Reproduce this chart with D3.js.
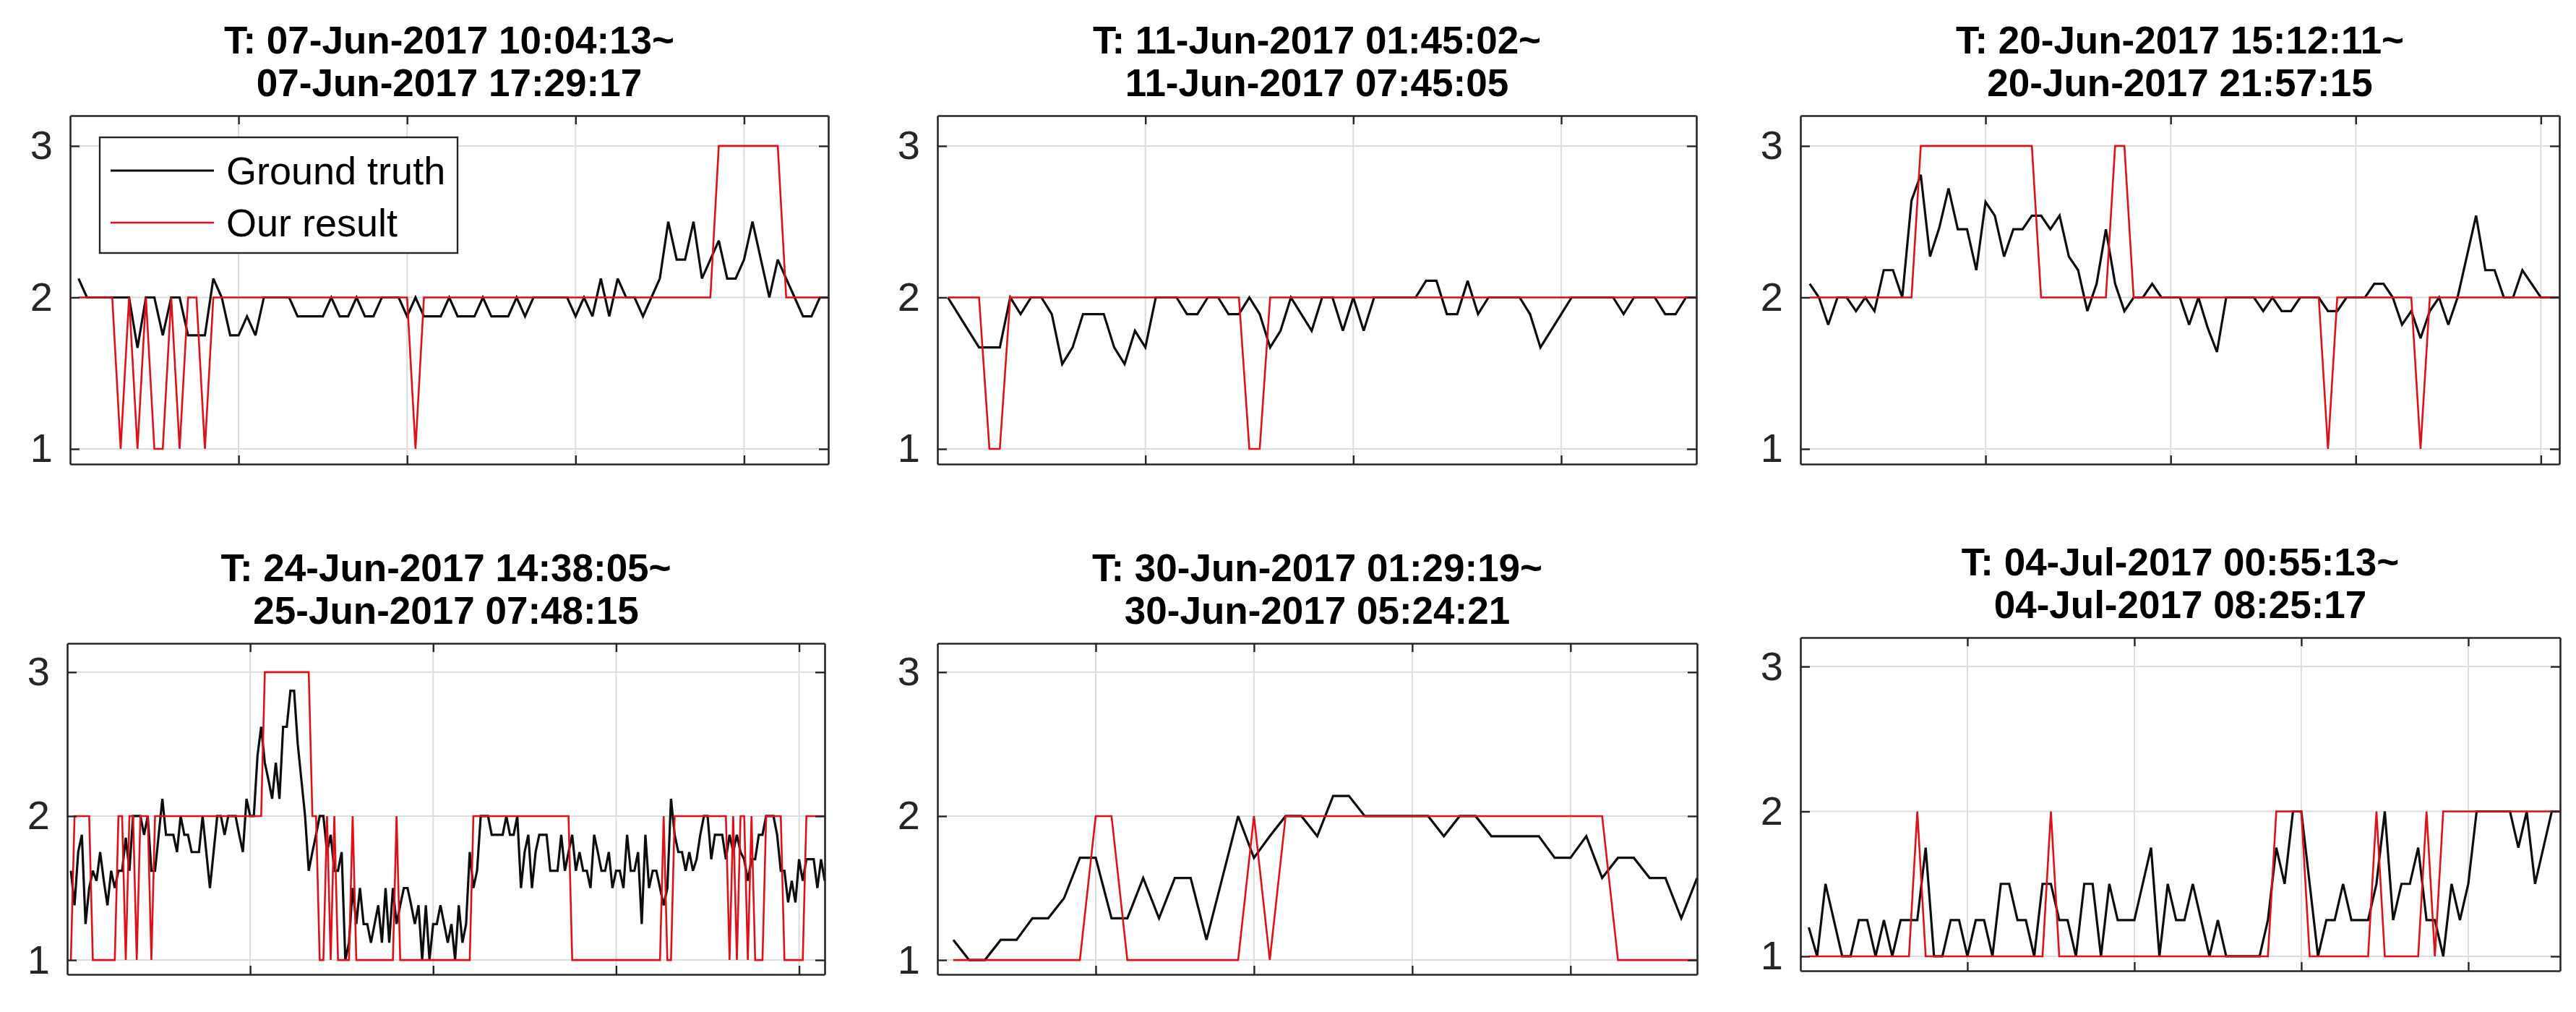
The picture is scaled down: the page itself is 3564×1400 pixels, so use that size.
<!DOCTYPE html>
<html><head><meta charset="utf-8">
<script src="https://cdn.jsdelivr.net/npm/d3@7"></script>
<style>
html,body{margin:0;padding:0;background:#fff;}
svg{display:block;font-family:"Liberation Sans",Arial,Helvetica,sans-serif;}
</style></head><body>
<svg id="chart" width="3564" height="1400"></svg>
<script>
// ---------- data ----------
const titleLine1 = ["T: 07-Jun-2017 10:04:13~","T: 11-Jun-2017 01:45:02~","T: 20-Jun-2017 15:12:11~",
                    "T: 24-Jun-2017 14:38:05~","T: 30-Jun-2017 01:29:19~","T: 04-Jul-2017 00:55:13~"];
const titleLine2 = ["07-Jun-2017 17:29:17","11-Jun-2017 07:45:05","20-Jun-2017 21:57:15",
                    "25-Jun-2017 07:48:15","30-Jun-2017 05:24:21","04-Jul-2017 08:25:17"];
const seriesNames = ["Ground truth","Our result"];
const yTicks = [1,2,3];
const yTickLabels = ["1","2","3"];
const xTicks1 = [20,40,60,80];
const xTicks2 = [20,40,60];
const xTicks3 = [20,40,60,80];
const xTicks4 = [50,100,150,200];
const xTicks5 = [10,20,30,40];
const xTicks6 = [20,40,60,80];

const gt1 = [2.125,2,2,2,2,2,2,1.667,2,2,
 1.75,2,2,1.75,1.75,1.75,2.125,2,1.75,1.75,
 1.875,1.75,2,2,2,2,1.875,1.875,1.875,1.875,
 2,1.875,1.875,2,1.875,1.875,2,2,2,1.875,
 2,1.875,1.875,1.875,2,1.875,1.875,1.875,2,1.875,
 1.875,1.875,2,1.875,2,2,2,2,2,1.875,
 2,1.875,2.125,1.875,2.125,2,2,1.875,2,2.125,
 2.5,2.25,2.25,2.5,2.125,2.25,2.375,2.125,2.125,2.25,
 2.5,2.25,2,2.25,2.125,2,1.875,1.875,2,2];
const res1 = [2,2,2,2,2,1,2,1,2,1,
 1,2,1,2,2,1,2,2,2,2,
 2,2,2,2,2,2,2,2,2,2,
 2,2,2,2,2,2,2,2,2,2,
 1,2,2,2,2,2,2,2,2,2,
 2,2,2,2,2,2,2,2,2,2,
 2,2,2,2,2,2,2,2,2,2,
 2,2,2,2,2,2,3,3,3,3,
 3,3,3,3,2,2,2,2,2,2];

const gt2 = [2,1.89,1.78,1.67,1.67,1.67,2,1.89,2,2,
 1.89,1.56,1.67,1.89,1.89,1.89,1.67,1.56,1.78,1.67,
 2,2,2,1.89,1.89,2,2,1.89,1.89,2,
 1.89,1.67,1.78,2,1.89,1.78,2,2,1.78,2,
 1.78,2,2,2,2,2,2.11,2.11,1.89,1.89,
 2.11,1.89,2,2,2,2,1.89,1.67,1.78,1.89,
 2,2,2,2,2,1.89,2,2,2,1.89,
 1.89,2,2];
const res2 = [2,2,2,2,1,1,2,2,2,2,
 2,2,2,2,2,2,2,2,2,2,
 2,2,2,2,2,2,2,2,2,1,
 1,2,2,2,2,2,2,2,2,2,
 2,2,2,2,2,2,2,2,2,2,
 2,2,2,2,2,2,2,2,2,2,
 2,2,2,2,2,2,2,2,2,2,
 2,2,2];

const gt3 = [2.09,2,1.82,2,2,1.91,2,1.91,2.18,2.18,
 2,2.64,2.81,2.27,2.46,2.72,2.45,2.45,2.18,2.63,
 2.54,2.27,2.45,2.45,2.54,2.54,2.45,2.54,2.27,2.18,
 1.91,2.09,2.45,2.09,1.91,2,2,2.09,2,2,
 2,1.82,2,1.8,1.64,2,2,2,2,1.91,
 2,1.91,1.91,2,2,2,1.91,1.91,2,2,
 2,2.09,2.09,2,1.82,1.91,1.73,1.91,2,1.82,
 2,2.27,2.54,2.18,2.18,2,2,2.18,2.09,2,
 2,2];
const res3 = [2,2,2,2,2,2,2,2,2,2,
 2,2,3,3,3,3,3,3,3,3,
 3,3,3,3,3,2,2,2,2,2,
 2,2,2,3,3,2,2,2,2,2,
 2,2,2,2,2,2,2,2,2,2,
 2,2,2,2,2,2,1,2,2,2,
 2,2,2,2,2,2,1,2,2,2,
 2,2,2,2,2,2,2,2,2,2,
 2,2];

const gt4 = [1.62,1.38,1.75,1.87,1.25,1.5,1.62,1.55,1.75,1.55,
 1.38,1.62,1.5,1.62,1.62,1.85,1.62,2,2,2,
 1.87,2,1.62,1.62,1.87,2.12,1.87,1.87,1.87,1.75,
 2,1.87,1.87,1.75,1.75,1.75,2,1.75,1.5,1.75,
 2,2,1.87,2,2,2,1.87,1.75,2.12,2,
 2,2.42,2.62,2.37,2.25,2.12,2.37,2.12,2.62,2.62,
 2.87,2.87,2.5,2.25,2,1.62,1.75,1.87,2,2,
 1.75,1.87,1.62,1.62,1.75,1.0,1.12,1.5,1.25,1.5,
 1.25,1.25,1.12,1.25,1.38,1.12,1.5,1.12,1.5,1.25,
 1.38,1.5,1.5,1.38,1.25,1.38,1.0,1.38,1.0,1.25,
 1.25,1.38,1.25,1.12,1.25,1.0,1.38,1.12,1.25,1.75,
 1.5,1.62,2,2,2,1.87,1.87,1.87,1.87,2,
 1.87,1.87,2,1.5,1.75,1.87,1.5,1.75,1.87,1.87,
 1.87,1.62,1.62,1.62,1.87,1.62,1.75,1.87,1.62,1.75,
 1.62,1.62,1.5,1.87,1.75,1.62,1.62,1.75,1.5,1.62,
 1.62,1.5,1.87,1.62,1.62,1.75,1.25,1.87,1.5,1.62,
 1.62,1.5,1.38,1.5,2.12,1.87,1.75,1.75,1.62,1.75,
 1.62,1.7,1.87,2,2,1.7,1.87,1.87,1.87,1.7,
 1.87,1.75,1.87,1.75,1.7,1.55,1.7,1.7,1.87,1.87,
 2,2,2,1.87,1.62,1.62,1.4,1.55,1.4,1.7,
 1.55,1.7,1.7,1.7,1.5,1.7,1.55];
const res4 = [1,2,2,2,2,2,1,1,1,1,
 1,1,1,2,2,1,2,2,1,2,
 2,2,1,2,2,2,2,2,2,2,
 2,2,2,2,2,2,2,2,2,2,
 2,2,2,2,2,2,2,2,2,2,
 2,2,2,3,3,3,3,3,3,3,
 3,3,3,3,3,3,2,2,1,1,
 2,1,2,1,1,1,1,2,1,1,
 1,1,1,1,1,1,1,1,1,2,
 1,1,1,1,1,1,1,1,1,1,
 1,1,1,1,1,1,1,1,1,1,
 2,2,2,2,2,2,2,2,2,2,
 2,2,2,2,2,2,2,2,2,2,
 2,2,2,2,2,2,2,1,1,1,
 1,1,1,1,1,1,1,1,1,1,
 1,1,1,1,1,1,1,1,1,1,
 1,1,2,1,1,2,2,2,2,2,
 2,2,2,2,2,2,2,2,2,2,
 1,2,1,2,2,1,2,1,1,1,
 2,2,2,2,2,1,1,1,1,1,
 1,2,2,2,2,2,2];

const gt5 = [1.14,1,1,1.14,1.14,1.29,1.29,1.43,1.71,1.71,
 1.29,1.29,1.57,1.29,1.57,1.57,1.14,1.57,2,1.71,
 1.86,2,2,1.86,2.14,2.14,2,2,2,2,
 2,1.86,2,2,1.86,1.86,1.86,1.86,1.71,1.71,
 1.86,1.57,1.71,1.71,1.57,1.57,1.29,1.57];
const res5 = [1,1,1,1,1,1,1,1,1,2,
 2,1,1,1,1,1,1,1,1,2,
 1,2,2,2,2,2,2,2,2,2,
 2,2,2,2,2,2,2,2,2,2,
 2,2,1,1,1,1,1,1];

const gt6 = [1.2,1,1.5,1.25,1,1,1.25,1.25,1,1.25,
 1,1.25,1.25,1.25,1.75,1,1,1.25,1.25,1,
 1.25,1.25,1,1.5,1.5,1.25,1.25,1,1.5,1.5,
 1.25,1.25,1,1.5,1.5,1,1.5,1.25,1.25,1.25,
 1.5,1.75,1,1.5,1.25,1.25,1.5,1.25,1,1.25,
 1,1,1,1,1,1.25,1.75,1.5,2,2,
 1.5,1,1.25,1.25,1.5,1.25,1.25,1.25,1.5,2,
 1.25,1.5,1.5,1.75,1.25,1.25,1,1.5,1.25,1.5,
 2,2,2,2,2,1.75,2,1.5,1.75,2,
 2];
const res6 = [1,1,1,1,1,1,1,1,1,1,
 1,1,1,2,1,1,1,1,1,1,
 1,1,1,1,1,1,1,1,1,2,
 1,1,1,1,1,1,1,1,1,1,
 1,1,1,1,1,1,1,1,1,1,
 1,1,1,1,1,1,2,2,2,2,
 1,1,1,1,1,1,1,1,2,1,
 1,1,1,1,2,1,2,2,2,2,
 2,2,2,2,2,2,2,2,2,2,
 2];

const groundTruth = [gt1,gt2,gt3,gt4,gt5,gt6];
const ourResult = [res1,res2,res3,res4,res5,res6];
const xTicksAll = [xTicks1,xTicks2,xTicks3,xTicks4,xTicks5,xTicks6];

// ---------- layout ----------
const boxes = [
  {l:97,  r:1146, t:160, b:642},
  {l:1297,r:2347, t:160, b:642},
  {l:2491,r:3541, t:160, b:642},
  {l:93,  r:1141, t:890, b:1348},
  {l:1297,r:2348, t:890, b:1348},
  {l:2491,r:3542, t:882, b:1343}
];
const AX = "#262626", GRID = "#dcdcdc", BLACK = "#0d0d0d", RED = "#e01018";
const svg = d3.select("#chart");

boxes.forEach((bx, p) => {
  const gtv = groundTruth[p], rv = ourResult[p];
  const N = gtv.length;
  const x = d3.scaleLinear().domain([0, N]).range([bx.l, bx.r]);
  const y = d3.scaleLinear().domain([0.9, 3.2]).range([bx.b, bx.t]);
  const g = svg.append("g");
  const xt = xTicksAll[p];

  // grid
  g.selectAll(".vg").data(xt).join("line")
    .attr("x1", d => x(d)).attr("x2", d => x(d)).attr("y1", bx.t).attr("y2", bx.b)
    .attr("stroke", GRID).attr("stroke-width", 2);
  g.selectAll(".hg").data(yTicks).join("line")
    .attr("x1", bx.l).attr("x2", bx.r).attr("y1", d => y(d)).attr("y2", d => y(d))
    .attr("stroke", GRID).attr("stroke-width", 2);

  // series
  const line = d3.line().x((d, i) => x(i + 1)).y(d => y(d));
  g.append("path").datum(gtv).attr("d", line).attr("fill", "none")
    .attr("stroke", BLACK).attr("stroke-width", 3.2).attr("stroke-linejoin", "miter").attr("stroke-miterlimit", 3);
  g.append("path").datum(rv).attr("d", line).attr("fill", "none")
    .attr("stroke", RED).attr("stroke-width", 2.6).attr("stroke-linejoin", "miter").attr("stroke-miterlimit", 3);

  // axes (inward ticks on all sides)
  const fmt = (d) => yTickLabels[yTicks.indexOf(d)];
  const left = g.append("g").attr("transform", `translate(${bx.l},0)`)
    .call(d3.axisLeft(y).tickValues(yTicks).tickFormat(fmt).tickSizeInner(-13).tickSizeOuter(0).tickPadding(24));
  const right = g.append("g").attr("transform", `translate(${bx.r},0)`)
    .call(d3.axisRight(y).tickValues(yTicks).tickFormat("").tickSizeInner(-13).tickSizeOuter(0));
  const bottom = g.append("g").attr("transform", `translate(0,${bx.b})`)
    .call(d3.axisBottom(x).tickValues(xt).tickFormat("").tickSizeInner(-12).tickSizeOuter(0));
  const top = g.append("g").attr("transform", `translate(0,${bx.t})`)
    .call(d3.axisTop(x).tickValues(xt).tickFormat("").tickSizeInner(-12).tickSizeOuter(0));
  [left, right, bottom, top].forEach(a => {
    a.select(".domain").attr("stroke", AX).attr("stroke-width", 2.6);
    a.selectAll(".tick line").attr("stroke", AX).attr("stroke-width", 2.4);
    a.selectAll("text").attr("fill", "#262626").attr("font-size", 56)
      .attr("font-family", "Liberation Sans, Arial, sans-serif");
  });

  // titles
  const cx = (bx.l + bx.r) / 2;
  g.append("text").attr("x", cx).attr("y", bx.t - 86).attr("text-anchor", "middle")
    .attr("font-size", 53).attr("font-weight", "bold").attr("fill", "#000").text(titleLine1[p]);
  g.append("text").attr("x", cx).attr("y", bx.t - 27).attr("text-anchor", "middle")
    .attr("font-size", 53).attr("font-weight", "bold").attr("fill", "#000").text(titleLine2[p]);

  // legend in first panel
  if (p === 0) {
    const lg = g.append("g");
    lg.append("rect").attr("x", 138).attr("y", 190).attr("width", 495).attr("height", 160)
      .attr("fill", "#fff").attr("stroke", AX).attr("stroke-width", 2.4);
    const cols = [BLACK, RED];
    seriesNames.forEach((nm, k) => {
      const ly = 236 + k * 72;
      lg.append("line").attr("x1", 153).attr("x2", 296).attr("y1", ly).attr("y2", ly)
        .attr("stroke", cols[k]).attr("stroke-width", k ? 2.6 : 3);
      lg.append("text").attr("x", 313).attr("y", ly + 19).attr("font-size", 54)
        .attr("fill", "#000").text(nm);
    });
  }
});
</script>
</body></html>
